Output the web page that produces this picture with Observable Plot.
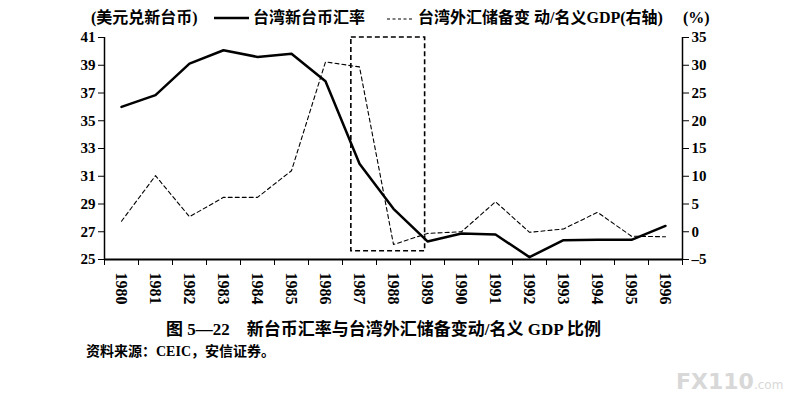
<!DOCTYPE html>
<html>
<head>
<meta charset="utf-8">
<script src="https://cdn.jsdelivr.net/npm/d3@7"></script>
<script src="https://cdn.jsdelivr.net/npm/@observablehq/plot@0.6"></script>
<style>
  html, body { margin: 0; padding: 0; background: #fff; }
  #wrap { position: relative; width: 803px; height: 404px; overflow: hidden;
          font-family: "Liberation Serif", "Noto Sans CJK SC", serif; color: #000; }
  #chart { position: absolute; left: 0; top: 0; }
  .abs { position: absolute; white-space: pre; line-height: 1; }
  .hdr { font-size: 16px; font-weight: bold; top: 10px; }
  #caption { font-size: 17px; font-weight: bold; left: 166px; top: 321px; }
  #source { font-size: 14px; font-weight: bold; left: 86px; top: 345px; }
  #wm { left: 676px; top: 371px; font-family: "DejaVu Sans", sans-serif; font-size: 22px; font-weight: bold; color: #d8d8d8; }
  #wm small { font-size: 12px; font-weight: normal; }
</style>
</head>
<body>
<div id="wrap">
  <div id="chart"></div>
  <div class="abs hdr" style="left:91px">(美元兑新台币)</div>
  <svg class="abs" style="left:212px;top:10px" width="40" height="16"><line x1="2" x2="37" y1="8" y2="8" stroke="#000" stroke-width="2.5"/></svg>
  <div class="abs hdr" style="left:253px">台湾新台币汇率</div>
  <svg class="abs" style="left:385px;top:10px" width="30" height="16"><line x1="2" x2="27" y1="9" y2="9" stroke="#000" stroke-width="1.1" stroke-dasharray="3,2.5"/></svg>
  <div class="abs hdr" style="left:418px">台湾外汇储备变 动/名义GDP(右轴)</div>
  <div class="abs hdr" style="left:683px">(%)</div>
  <div class="abs" id="caption">图 5—22　新台币汇率与台湾外汇储备变动/名义 GDP 比例</div>
  <div class="abs" id="source">资料来源：CEIC，安信证券。</div>
  <div class="abs" id="wm">FX110<small>.com</small></div>
</div>
<script>
// ---- data ----
const years = [1980,1981,1982,1983,1984,1985,1986,1987,1988,1989,1990,1991,1992,1993,1994,1995,1996];
const twdRate = [36.0,36.85,39.12,40.08,39.6,39.83,37.85,31.9,28.65,26.3,26.87,26.8,25.17,26.39,26.42,26.42,27.42];
const reserveToGdp = [1.9,10.1,2.7,6.2,6.2,11.0,30.6,29.7,-2.3,-0.3,0.0,5.4,-0.1,0.5,3.5,-0.8,-0.9];
const leftTicks = [25,27,29,31,33,35,37,39,41];
const rightTicks = [-5,0,5,10,15,20,25,30,35];
const highlightYears = [1986.76, 1988.93];
const highlightRight = [-3.5, 35];

// right axis (%) mapped into left axis units
const leftDomain = [25, 41], rightDomain = [-5, 35];
const k = (leftDomain[1]-leftDomain[0])/(rightDomain[1]-rightDomain[0]);
const toLeft = v => leftDomain[0] + (v - rightDomain[0]) * k;
const fromLeft = v => rightDomain[0] + (v - leftDomain[0]) / k;

const table = years.map((y, i) => ({year: y, twd: twdRate[i], res: reserveToGdp[i]}));
const box = [{x1: highlightYears[0], x2: highlightYears[1], y1: toLeft(highlightRight[0]), y2: toLeft(highlightRight[1])}];
const bounds = years.concat([years[years.length-1] + 1]).map(y => y - 0.5);

const fontStyle = {fontFamily: "Liberation Serif", fontWeight: "bold"};

const plot = Plot.plot({
  width: 803,
  height: 320,
  marginLeft: 104,
  marginRight: 121,
  marginTop: 37,
  marginBottom: 61,
  style: {fontFamily: "Liberation Serif, serif", fontWeight: "bold", fontSize: "15px", color: "#000", background: "#fff"},
  x: {domain: [bounds[0], bounds[bounds.length-1]]},
  y: {domain: leftDomain},
  marks: [
    Plot.ruleX([bounds[0], bounds[bounds.length-1]], {stroke: "#000", strokeWidth: 1.5}),
    Plot.ruleY([leftDomain[0]], {stroke: "#000", strokeWidth: 1.8}),
    Plot.axisY({anchor: "left", ticks: leftTicks, tickSize: 6, tickPadding: 3, label: null, tickFormat: d => String(d), fontSize: 15, ...fontStyle}),
    Plot.axisY({anchor: "right", ticks: rightTicks.map(toLeft), tickSize: 6, tickPadding: 3, label: null,
      tickFormat: v => { const r = Math.round(fromLeft(v)); return r < 0 ? "–" + Math.abs(r) : String(r); }, fontSize: 15, ...fontStyle}),
    Plot.axisX({anchor: "bottom", ticks: bounds, tickSize: 6, tickFormat: () => "", label: null}),
    Plot.axisX({anchor: "bottom", ticks: years, tickSize: 0, tickPadding: 13, tickRotate: 90, label: null,
      tickFormat: d => String(d), fontSize: 16, ...fontStyle}),
    Plot.rect(box, {x1: "x1", x2: "x2", y1: "y1", y2: "y2", fill: "none", stroke: "#000", strokeWidth: 1.6, strokeDasharray: "5,3"}),
    Plot.line(table, {x: "year", y: d => toLeft(d.res), stroke: "#000", strokeWidth: 1.1, strokeDasharray: "4,3"}),
    Plot.line(table, {x: "year", y: "twd", stroke: "#000", strokeWidth: 2.5})
  ]
});
document.getElementById("chart").appendChild(plot);
</script>
</body>
</html>
